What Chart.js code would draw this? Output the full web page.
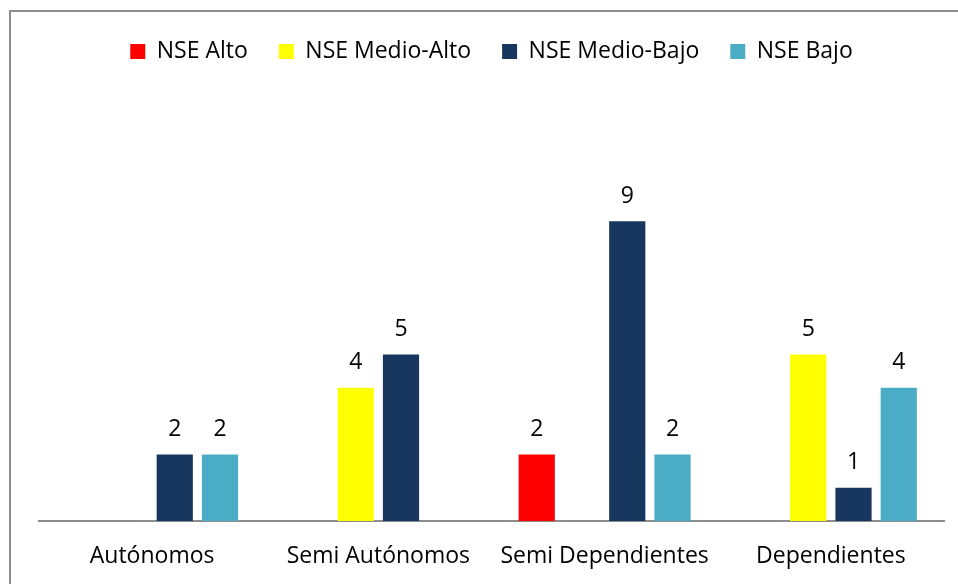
<!DOCTYPE html>
<html>
<head>
<meta charset="utf-8">
<script src="https://cdn.jsdelivr.net/npm/chart.js@4"></script>
<style>
  html, body { margin: 0; padding: 0; background: #fff; }
  #wrap { position: relative; width: 958px; height: 584px; }
  #frame { position: absolute; left: 9px; top: 10px; right: 0; bottom: 0;
           border-left: 2px solid #8c8c8c; border-top: 2px solid #8c8c8c; }
  canvas { position: absolute; left: 0; top: 0; }
</style>
</head>
<body>
<div id="wrap">
  <div id="frame"></div>
  <canvas id="chart" width="958" height="584"></canvas>
</div>
<script>
// Categories and series (null = no bar)
var categories = ['Autónomos', 'Semi Autónomos', 'Semi Dependientes', 'Dependientes'];
var seriesNames = ['NSE Alto', 'NSE Medio-Alto', 'NSE Medio-Bajo', 'NSE Bajo'];
var alto      = [null, null, 2, null];
var medioAlto = [null, 4, null, 5];
var medioBajo = [2, 5, 9, 1];
var bajo      = [2, null, 2, 4];
var colors = ['#ff0000', '#ffff00', '#17375e', '#4bacc6'];

var FONT = '"Open Sans", "Liberation Sans", sans-serif';
var FSIZE = 23;

// push the plot area down below the legend
var legendSpace = {
    id: 'legendSpace',
    beforeInit: function (chart) {
        var fit = chart.legend.fit;
        chart.legend.fit = function () {
            fit.bind(chart.legend)();
            this.height += 115;
        };
    }
};

// value labels above each bar
var valueLabels = {
    id: 'valueLabels',
    afterDatasetsDraw: function (chart) {
        var ctx = chart.ctx;
        ctx.save();
        ctx.font = FSIZE + 'px ' + FONT;
        ctx.fillStyle = '#000';
        ctx.textAlign = 'center';
        ctx.textBaseline = 'middle';
        chart.data.datasets.forEach(function (ds, i) {
            chart.getDatasetMeta(i).data.forEach(function (bar, j) {
                var v = ds.data[j];
                if (v === null || v === undefined) return;
                ctx.fillText(String(v), bar.x, bar.y - 25);
            });
        });
        ctx.restore();
    }
};

var datasets = [alto, medioAlto, medioBajo, bajo].map(function (vals, i) {
    return {
        label: seriesNames[i],
        data: vals,
        backgroundColor: colors[i],
        borderWidth: 0,
        categoryPercentage: 0.8,
        barPercentage: 0.8
    };
});

new Chart(document.getElementById('chart').getContext('2d'), {
    type: 'bar',
    data: { labels: categories, datasets: datasets },
    options: {
        responsive: false,
        animation: false,
        layout: { padding: { left: 39, right: 14, top: 9, bottom: 0 } },
        plugins: {
            legend: {
                position: 'top',
                labels: {
                    boxWidth: 15,
                    boxHeight: 15,
                    padding: 31,
                    color: '#000',
                    font: { family: FONT, size: FSIZE }
                }
            },
            tooltip: { enabled: false }
        },
        scales: {
            x: {
                grid: { display: false, drawTicks: false },
                border: { display: true, color: '#8c8c8c', width: 2 },
                ticks: { color: '#000', padding: 22, font: { family: FONT, size: FSIZE } },
                afterFit: function (scale) { scale.height = 63; }
            },
            y: {
                display: false,
                min: 0,
                max: 10
            }
        }
    },
    plugins: [legendSpace, valueLabels]
});
</script>
</body>
</html>
